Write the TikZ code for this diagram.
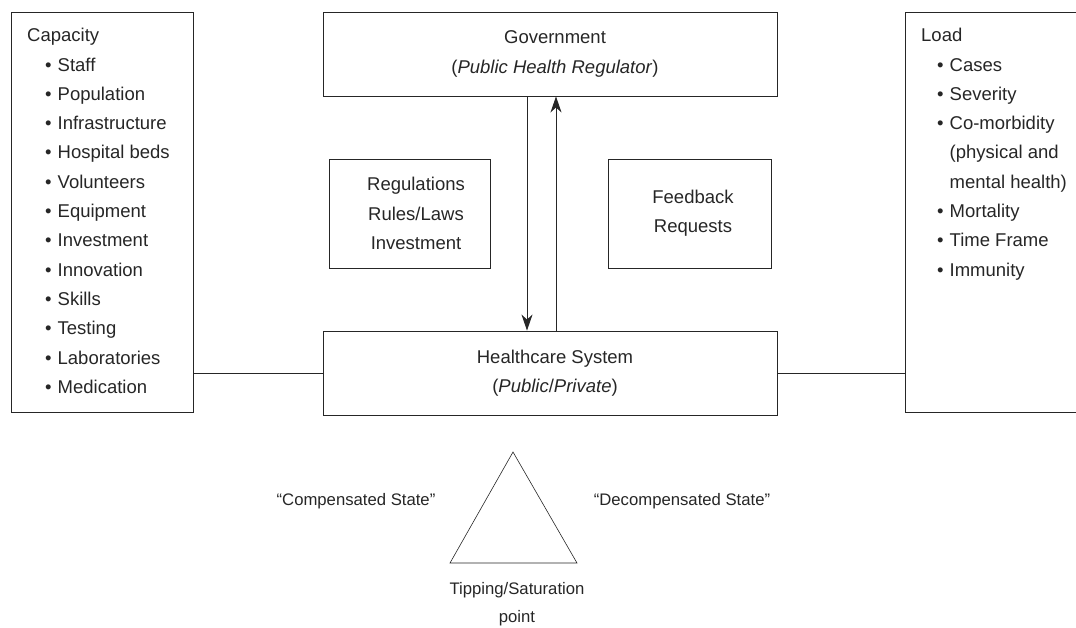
\documentclass[tikz,border=0pt]{standalone}
\usepackage{fontspec}
\setmainfont{Liberation Sans}
\usetikzlibrary{arrows, arrows.meta}
\usetikzlibrary{calc}

\definecolor{inkgray}{HTML}{262626}

\begin{document}
\begin{tikzpicture}[x=1pt, y=-1pt,
    every node/.style={text=inkgray, font=\fontsize{18.5}{29.3}\selectfont},
    box/.style={draw=inkgray, line width=0.9pt, inner sep=0pt},
    item/.style={anchor=west, inner sep=0pt, text height=1.45ex, text depth=0.3ex},
    statelabel/.style={font=\fontsize{16.7}{28}\selectfont},
    link/.style={draw=inkgray, line width=0.9pt},
    flow/.style={draw=inkgray, line width=0.9pt, >={Stealth[length=16pt, width=11pt, inset=5pt]}, ->}]
    \clip (0,0) rectangle (1076,627);

    % main boxes
    \node[box, minimum width=182, minimum height=400] (capacity) at (102,212) {};
    \node[box, minimum width=190, minimum height=400] (load) at (1000,212) {};
    \node[box, minimum width=454, minimum height=84, align=center] (gov) at (550,54)
        {\hspace{10pt}Government\\\hspace{10pt}(\textit{Public Health Regulator})};
    \node[box, minimum width=454, minimum height=84, align=center] (health) at (550,373)
        {\hspace{10pt}Healthcare System\\\hspace{10pt}(\textit{Public}/\textit{Private})};
    \node[box, minimum width=161, minimum height=109, align=center] (regs) at (410,213.5)
        {\hspace{12pt}Regulations\\\hspace{12pt}Rules/Laws\\\hspace{12pt}Investment};
    \node[box, minimum width=163, minimum height=109, align=center] (feedback) at (690,213.5)
        {\hspace{6pt}Feedback\\\hspace{6pt}Requests};

    % capacity list
    \node[item] (caphead) at (27,38) {Capacity};
    \foreach \t [count=\i from 0] in {Staff, Population, Infrastructure, Hospital beds,
        Volunteers, Equipment, Investment, Innovation, Skills, Testing,
        Laboratories, Medication}
        \node[item] (cap\i) at (45,68+29.3*\i) {\textbullet\hspace{6pt}\t};

    % load list
    \node[item] (loadhead) at (921,38) {Load};
    \node[item] (load0) at (937,68) {\textbullet\hspace{6pt}Cases};
    \node[item] (load1) at (937,97.3) {\textbullet\hspace{6pt}Severity};
    \node[item] (load2) at (937,126.6) {\textbullet\hspace{6pt}Co-morbidity};
    \node[item] (load2a) at (949.5,155.9) {(physical and};
    \node[item] (load2b) at (949.5,185.2) {mental health)};
    \node[item] (load3) at (937,214.5) {\textbullet\hspace{6pt}Mortality};
    \node[item] (load4) at (937,243.8) {\textbullet\hspace{6pt}Time Frame};
    \node[item] (load5) at (937,273.1) {\textbullet\hspace{6pt}Immunity};

    % connectors
    \draw[link] (health.west -| capacity.east) -- (health.west);
    \draw[link] (health.east) -- (health.east -| load.west);
    \draw[flow] ([xshift=-23]gov.south) -- ([xshift=-23]health.north);
    \draw[flow] ([xshift=6]health.north) -- ([xshift=6]gov.south);

    % tipping triangle
    \coordinate (apex) at (513,452);
    \coordinate (baseL) at (450,563);
    \coordinate (baseR) at (577,563);
    \draw[draw=inkgray, line width=0.6pt] (baseL) -- (apex) -- (baseR) -- cycle;
    \node[statelabel] (comp) at (356,501) {``Compensated State''};
    \node[statelabel] (decomp) at (682,501) {``Decompensated State''};
    \node[statelabel, align=center] (tip) at (517,604) {Tipping/Saturation\\point};
\end{tikzpicture}
\end{document}
